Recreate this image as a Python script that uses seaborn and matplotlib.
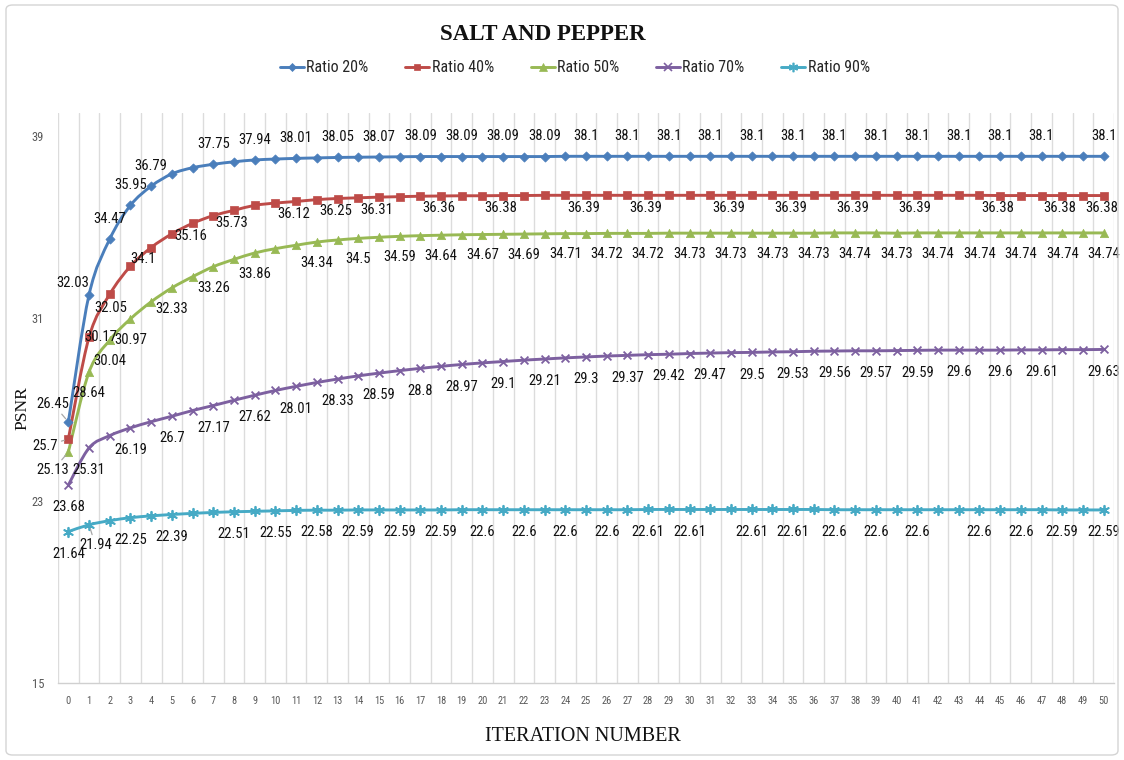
import numpy as np
import pandas as pd
import seaborn as sns
import matplotlib
matplotlib.use("Agg")
import matplotlib.pyplot as plt
from matplotlib import font_manager
from matplotlib.path import Path
from matplotlib.patches import PathPatch, FancyBboxPatch
from matplotlib.lines import Line2D

# ---------------------------------------------------------------- data
iterations = np.arange(0, 51)

ratio_20 = [26.45, 32.03, 34.47, 35.95, 36.79, 37.33, 37.60, 37.75, 37.86, 37.94,
            37.98, 38.01, 38.03, 38.05, 38.06, 38.07, 38.08, 38.09, 38.09, 38.09,
            38.09, 38.09, 38.09, 38.09, 38.10, 38.10, 38.10, 38.10, 38.10, 38.10,
            38.10, 38.10, 38.10, 38.10, 38.10, 38.10, 38.10, 38.10, 38.10, 38.10,
            38.10, 38.10, 38.10, 38.10, 38.10, 38.10, 38.10, 38.10, 38.10, 38.10,
            38.10]
ratio_40 = [25.70, 30.17, 32.05, 33.28, 34.10, 34.70, 35.16, 35.50, 35.73, 35.95,
            36.05, 36.12, 36.20, 36.25, 36.28, 36.31, 36.33, 36.35, 36.36, 36.37,
            36.37, 36.38, 36.38, 36.39, 36.39, 36.39, 36.39, 36.39, 36.39, 36.39,
            36.39, 36.39, 36.39, 36.39, 36.39, 36.39, 36.39, 36.39, 36.39, 36.39,
            36.39, 36.39, 36.39, 36.39, 36.39, 36.38, 36.38, 36.38, 36.38, 36.38,
            36.38]
ratio_50 = [25.13, 28.64, 30.04, 30.97, 31.72, 32.33, 32.82, 33.26, 33.58, 33.86,
            34.05, 34.20, 34.34, 34.43, 34.50, 34.55, 34.59, 34.62, 34.64, 34.66,
            34.67, 34.68, 34.69, 34.70, 34.71, 34.71, 34.72, 34.72, 34.72, 34.73,
            34.73, 34.73, 34.73, 34.73, 34.73, 34.73, 34.73, 34.74, 34.74, 34.74,
            34.73, 34.74, 34.74, 34.74, 34.74, 34.74, 34.74, 34.74, 34.74, 34.74,
            34.74]
ratio_70 = [23.68, 25.31, 25.85, 26.19, 26.46, 26.70, 26.95, 27.17, 27.40, 27.62,
            27.83, 28.01, 28.18, 28.33, 28.47, 28.59, 28.70, 28.80, 28.89, 28.97,
            29.04, 29.10, 29.16, 29.21, 29.26, 29.30, 29.34, 29.37, 29.40, 29.42,
            29.45, 29.47, 29.49, 29.50, 29.52, 29.53, 29.55, 29.56, 29.57, 29.57,
            29.58, 29.59, 29.60, 29.60, 29.60, 29.60, 29.61, 29.61, 29.62, 29.62,
            29.63]
ratio_90 = [21.64, 21.94, 22.12, 22.25, 22.33, 22.39, 22.44, 22.48, 22.51, 22.53,
            22.55, 22.57, 22.58, 22.58, 22.59, 22.59, 22.59, 22.59, 22.59, 22.60,
            22.60, 22.60, 22.60, 22.60, 22.60, 22.60, 22.60, 22.60, 22.61, 22.61,
            22.61, 22.61, 22.61, 22.61, 22.61, 22.61, 22.61, 22.60, 22.60, 22.60,
            22.60, 22.60, 22.60, 22.60, 22.60, 22.60, 22.60, 22.60, 22.59, 22.59,
            22.59]

series_names = ["Ratio 20%", "Ratio 40%", "Ratio 50%", "Ratio 70%", "Ratio 90%"]
series_values = [ratio_20, ratio_40, ratio_50, ratio_70, ratio_90]

# iterations that carry a value label, per series
labelled = {
    "Ratio 20%": [0, 1, 2, 3, 4, 7, 9, 11, 13, 15, 17, 19, 21, 23, 25, 27, 29, 31,
                  33, 35, 37, 39, 41, 43, 45, 47, 50],
    "Ratio 40%": [0, 1, 2, 4, 6, 8, 11, 13, 15, 18, 21, 25, 28, 32, 35, 38, 41, 45,
                  48, 50],
    "Ratio 50%": [0, 1, 2, 3, 5, 7, 9, 12, 14, 16, 18, 20, 22, 24, 26, 28, 30, 32,
                  34, 36, 38, 40, 42, 44, 46, 48, 50],
    "Ratio 70%": [0, 1, 3, 5, 7, 9, 11, 13, 15, 17, 19, 21, 23, 25, 27, 29, 31, 33,
                  35, 37, 39, 41, 43, 45, 47, 50],
    "Ratio 90%": [0, 1, 3, 5, 8, 10, 12, 14, 16, 18, 20, 22, 24, 26, 28, 30, 33, 35,
                  37, 39, 41, 44, 46, 48, 50],
}

y_ticks = [15, 23, 31, 39]

# ---------------------------------------------------------------- style
colors = {
    "Ratio 20%": "#4A7EBB",
    "Ratio 40%": "#BE4B48",
    "Ratio 50%": "#98B954",
    "Ratio 70%": "#7D60A0",
    "Ratio 90%": "#46AAC5",
}
markers = {
    "Ratio 20%": ("D", 22),
    "Ratio 40%": ("s", 28),
    "Ratio 50%": ("^", 36),
    "Ratio 70%": ("x", 32),
    "Ratio 90%": ((6, 2, 0), 46),
}
# default label offset (points) per series, plus a few hand-placed ones
label_offset = {
    "Ratio 20%": (0, 14.5),
    "Ratio 40%": (-1.5, -9),
    "Ratio 50%": (0, -15),
    "Ratio 70%": (0, -16),
    "Ratio 90%": (0, -16),
}
label_special = {
    ("Ratio 20%", 0): (-11, 13),
    ("Ratio 20%", 1): (-11.5, 8.5),
    ("Ratio 40%", 0): (-16.5, -5),
    ("Ratio 40%", 1): (8.6, 0),
    ("Ratio 40%", 2): (1, -10),
    ("Ratio 40%", 4): (-5.5, -8),
    ("Ratio 50%", 0): (-11, -13),
    ("Ratio 90%", 1): (4.5, -14.5),
}
leaders = {("Ratio 20%", 0), ("Ratio 40%", 0), ("Ratio 50%", 0), ("Ratio 90%", 1)}


def pick_narrow_font():
    """Prefer a condensed sans face; fall back to a regular one at a smaller size."""
    entries = font_manager.fontManager.ttflist
    names = {f.name for f in entries}
    for name in ("Liberation Sans Narrow", "Roboto Condensed", "Open Sans Condensed",
                 "Noto Sans Condensed", "Arial Narrow"):
        if name in names:
            return dict(family=[name, "DejaVu Sans"], stretch="normal"), 1.0
    for f in entries:
        if f.name == "DejaVu Sans" and f.stretch in ("condensed", "semi-condensed"):
            return dict(family=["DejaVu Sans"], stretch="condensed"), 0.92
    return dict(family=["Liberation Sans", "DejaVu Sans"], stretch="normal"), 0.88


sns.set_theme(style="white")
narrow, size_scale = pick_narrow_font()
serif = ["Liberation Serif", "DejaVu Serif"]
plt.rcParams["font.family"] = narrow["family"]
plt.rcParams["font.stretch"] = narrow["stretch"]

fig = plt.figure(figsize=(11.24, 7.6), dpi=100)
ax = fig.add_axes([58 / 1124, 77 / 760, 1056 / 1124, 570 / 760])

long = pd.DataFrame({
    "iteration": np.tile(iterations, len(series_names)),
    "psnr": np.concatenate([np.asarray(v, float) for v in series_values]),
    "series": np.repeat(series_names, len(iterations)),
})


def smooth_path(x, y):
    """Catmull-Rom spline through the points, as cubic Bezier segments."""
    pts = np.column_stack([x, y]).astype(float)
    n = len(pts)
    verts = [pts[0]]
    codes = [Path.MOVETO]
    for i in range(n - 1):
        p0 = pts[max(i - 1, 0)]
        p1 = pts[i]
        p2 = pts[i + 1]
        p3 = pts[min(i + 2, n - 1)]
        verts += [p1 + (p2 - p0) / 6.0, p2 - (p3 - p1) / 6.0, p2]
        codes += [Path.CURVE4] * 3
    return Path(verts, codes)


for name in series_names:
    sub = long[long["series"] == name]
    col = colors[name]
    ax.add_patch(PathPatch(smooth_path(sub["iteration"], sub["psnr"]),
                           facecolor="none", edgecolor=col, lw=2.1,
                           zorder=2, capstyle="round", joinstyle="round"))
    mk, size = markers[name]
    line_art = mk in ("x",) or isinstance(mk, tuple)
    sns.scatterplot(data=sub, x="iteration", y="psnr", marker=mk, s=size,
                    color=col, edgecolor=col if not line_art else None,
                    linewidth=1.3 if line_art else 0.5, zorder=3,
                    legend=False, ax=ax)

# value labels
for name in series_names:
    vals = long.loc[long["series"] == name, "psnr"].to_numpy()
    for i in labelled[name]:
        dx, dy = label_special.get((name, i), label_offset[name])
        arrow = None
        if (name, i) in leaders:
            arrow = dict(arrowstyle="-", color="#a6a6a6", lw=0.9,
                         shrinkA=0, shrinkB=3)
        ax.annotate(f"{vals[i]:g}", xy=(i, vals[i]), xytext=(dx, dy),
                    textcoords="offset points", ha="center", va="center",
                    fontsize=10.5 * size_scale, color="#111111", zorder=5,
                    arrowprops=arrow)

# axes
ax.set_xlim(-0.5, 50.5)
ax.set_ylim(15, 40)
ax.set_xticks(iterations)
ax.set_xticklabels([str(i) for i in iterations])
ax.set_xticks(np.arange(-0.5, 51, 1.0), minor=True)
ax.set_yticks(y_ticks)
ax.set_yticklabels([str(t) for t in y_ticks])
ax.grid(False)
ax.grid(True, which="minor", axis="x", color="#dcdcdc", lw=1.0)
ax.tick_params(axis="x", which="both", length=0, pad=9, labelsize=7.5,
               labelcolor="#595959")
ax.tick_params(axis="y", which="both", length=0, pad=10, labelsize=9,
               labelcolor="#595959")
for side in ("left", "right", "top"):
    ax.spines[side].set_visible(False)
ax.spines["bottom"].set_color("#d0d0d0")
ax.spines["bottom"].set_linewidth(1.0)

ax.set_xlabel("ITERATION NUMBER", family=serif, fontsize=14.5, color="#111111")
ax.xaxis.set_label_coords((583 - 58) / 1056, (683 - 727) / 570)
ax.set_ylabel("PSNR", family=serif, fontsize=12.5, color="#111111")
ax.yaxis.set_label_coords((30 - 58) / 1056, (683 - 408) / 570)

fig.suptitle("SALT AND PEPPER", family=serif, fontweight="bold", fontsize=16.5,
             x=543 / 1124, y=1 - 35 / 760, va="center", color="#111111")

handles = []
for name in series_names:
    mk, size = markers[name]
    line_art = mk in ("x",) or isinstance(mk, tuple)
    handles.append(Line2D([0], [0], color=colors[name], lw=2.1, marker=mk,
                          markersize=np.sqrt(size) * (1.0 if line_art else 0.9),
                          markeredgewidth=1.2 if line_art else 0.5,
                          markeredgecolor=colors[name]))
fig.legend(handles, series_names, loc="center", bbox_to_anchor=(575 / 1124, 1 - 68 / 760),
           ncol=5, frameon=False, fontsize=11.5 * size_scale, handlelength=1.5,
           handletextpad=0.15, columnspacing=2.3)

# outer chart frame
fig.patches.append(FancyBboxPatch((6 / 1124, 5 / 760), 1112 / 1124, 750 / 760,
                                  boxstyle="round,pad=0,rounding_size=0.006",
                                  transform=fig.transFigure, facecolor="none",
                                  edgecolor="#d4d4d4", lw=1.0))

fig.savefig("out.png", dpi=100)
